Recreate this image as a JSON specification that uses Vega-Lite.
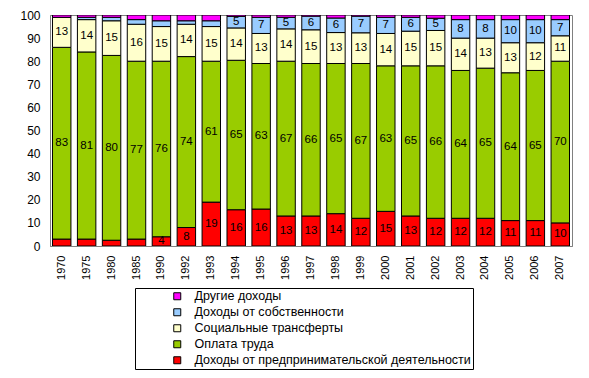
{
  "$schema": "https://vega.github.io/schema/vega-lite/v6.json",
  "width": 522,
  "height": 231,
  "autosize": "none",
  "padding": {"left": 50, "top": 15, "right": 17, "bottom": 132},
  "background": "white",
  "config": {
    "font": "Liberation Sans",
    "view": {"stroke": "#808080", "strokeWidth": 1},
    "axis": {"labelFont": "Liberation Sans", "labelColor": "black", "labelFontSize": 12, "grid": false, "ticks": false, "domainColor": "#808080", "title": null}
  },
  "datasets": {
    "series": [
      {"k": "r", "name": "Доходы от предпринимательской деятельности", "rank": 1},
      {"k": "g", "name": "Оплата труда", "rank": 2},
      {"k": "c", "name": "Социальные трансферты", "rank": 3},
      {"k": "b", "name": "Доходы от собственности", "rank": 4},
      {"k": "m", "name": "Другие доходы", "rank": 5}
    ]
  },
  "data": {
    "values": [
      {"year": "1970", "r": 3, "g": 83, "c": 13, "b": 0, "m": 1},
      {"year": "1975", "r": 3, "g": 81, "c": 14, "b": 1, "m": 1},
      {"year": "1980", "r": 2.5, "g": 80, "c": 15, "b": 1.5, "m": 1},
      {"year": "1985", "r": 3, "g": 77, "c": 16, "b": 2, "m": 2},
      {"year": "1990", "r": 4, "g": 76, "c": 15, "b": 2.5, "m": 2.5},
      {"year": "1992", "r": 8, "g": 74, "c": 14, "b": 1.5, "m": 2.5},
      {"year": "1993", "r": 19, "g": 61, "c": 15, "b": 2.5, "m": 2.5},
      {"year": "1994", "r": 15.7, "g": 64.7, "c": 14, "b": 5, "m": 0.6},
      {"year": "1995", "r": 16, "g": 63, "c": 13, "b": 7, "m": 1},
      {"year": "1996", "r": 13, "g": 67, "c": 14, "b": 5, "m": 1},
      {"year": "1997", "r": 13, "g": 66, "c": 14.6, "b": 5.9, "m": 0.5},
      {"year": "1998", "r": 14, "g": 65, "c": 13.4, "b": 6.3, "m": 1.3},
      {"year": "1999", "r": 12, "g": 67, "c": 13.3, "b": 7.2, "m": 0.5},
      {"year": "2000", "r": 15, "g": 63, "c": 14, "b": 7, "m": 1},
      {"year": "2001", "r": 13, "g": 65, "c": 15, "b": 6, "m": 1},
      {"year": "2002", "r": 12, "g": 66, "c": 15.3, "b": 5.3, "m": 1.4},
      {"year": "2003", "r": 12, "g": 64, "c": 14, "b": 8, "m": 2},
      {"year": "2004", "r": 12, "g": 65, "c": 13, "b": 8, "m": 2},
      {"year": "2005", "r": 11, "g": 64, "c": 13, "b": 10, "m": 2},
      {"year": "2006", "r": 11, "g": 65, "c": 12, "b": 10, "m": 2},
      {"year": "2007", "r": 10, "g": 70, "c": 11, "b": 7, "m": 2}
    ]
  },
  "transform": [
    {"fold": ["r", "g", "c", "b", "m"], "as": ["k", "v"]},
    {"lookup": "k", "from": {"data": {"name": "series"}, "key": "k", "fields": ["name", "rank"]}},
    {"stack": "v", "groupby": ["year"], "sort": [{"field": "rank", "order": "ascending"}], "as": ["y0", "y1"], "offset": "zero"},
    {"calculate": "(datum.y0 + datum.y1) / 2", "as": "ym"}
  ],
  "encoding": {
    "x": {"field": "year", "type": "nominal", "scale": {"paddingInner": 0.26, "paddingOuter": 0.1},
          "axis": {"labelAngle": -90, "labelPadding": 9, "labelAlign": "right", "labelBaseline": "middle", "labelFontSize": 11}}
  },
  "layer": [
    {
      "mark": {"type": "bar", "stroke": "black", "strokeWidth": 1, "clip": true},
      "encoding": {
        "y": {"field": "y0", "type": "quantitative", "scale": {"domain": [0, 100], "nice": false},
              "axis": {"values": [0, 10, 20, 30, 40, 50, 60, 70, 80, 90, 100], "tickCount": 11, "labelOverlap": false, "labelPadding": 10}},
        "y2": {"field": "y1"},
        "color": {
          "field": "name", "type": "nominal",
          "scale": {
            "domain": ["Другие доходы", "Доходы от собственности", "Социальные трансферты", "Оплата труда", "Доходы от предпринимательской деятельности"],
            "range": ["#FF00FF", "#99CCFF", "#FFFFCC", "#99CC00", "#FF0000"]
          },
          "legend": {
            "title": null,
            "orient": "none", "legendX": 85, "legendY": 273,
            "strokeColor": "black", "fillColor": "white", "padding": 2,
            "symbolType": "square", "symbolSize": 49, "symbolStrokeColor": "black", "symbolStrokeWidth": 1,
            "symbolOffset": 34, "labelOffset": 11,
            "labelFont": "Liberation Sans", "labelFontSize": 12.5, "labelColor": "black", "labelLimit": 450,
            "rowPadding": 3
          }
        }
      }
    },
    {
      "transform": [{"filter": "datum.k != 'm' && datum.v >= 4"}],
      "mark": {"type": "text", "font": "Liberation Sans", "fontSize": 11.5, "color": "black", "baseline": "middle"},
      "encoding": {
        "y": {"field": "ym", "type": "quantitative"},
        "text": {"field": "v", "type": "quantitative", "format": ".0f"}
      }
    }
  ]
}
